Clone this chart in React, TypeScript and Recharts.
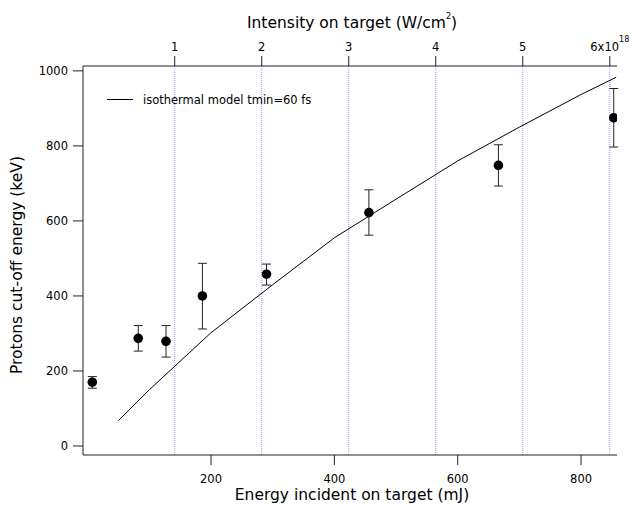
import {
  ComposedChart,
  Line,
  Scatter,
  ErrorBar,
  XAxis,
  YAxis,
  ReferenceLine,
} from "recharts";

// isothermal model curve (energy in mJ -> cut-off energy in keV)
const MODEL_E = [50, 100, 200, 300, 400, 500, 600, 700, 800, 857];
const MODEL_KEV = [68, 150, 302, 430, 555, 658, 760, 850, 937, 983];

// measured shots
const SHOT_E = [7.5, 82, 127, 186, 290, 456, 666, 853];
const SHOT_KEV = [170, 287, 279, 400, 458, 622, 748, 875];
const SHOT_ERR_LO = [16, 34, 42, 88, 29, 60, 55, 78];
const SHOT_ERR_HI = [15, 34, 42, 87, 27, 61, 55, 78];

const ENERGY_TICKS = [200, 400, 600, 800];
const KEV_TICKS = [0, 200, 400, 600, 800, 1000];
const INTENSITY_TICKS = [1, 2, 3, 4, 5, 6];
const INTENSITY_LABELS = ["1", "2", "3", "4", "5", "6x10"];
const INTENSITY_EXP = "18";
const MJ_PER_1E18 = 141.1; // pulse energy giving 1e18 W/cm2

const E_DOMAIN = [-7.6, 858.3];
const KEV_DOMAIN = [-24, 1013];

const FONT = "'DejaVu Sans', Verdana, sans-serif";
const INK = "#000";
const AXIS = "#222";
const GUIDE = "#9c9cff";

const model = MODEL_E.map((x, i) => ({ x, y: MODEL_KEV[i] }));
const shots = SHOT_E.map((x, i) => ({
  x,
  y: SHOT_KEV[i],
  err: [SHOT_ERR_LO[i], SHOT_ERR_HI[i]],
}));
const topTicks = INTENSITY_TICKS.map((v) => v * MJ_PER_1E18);

const tickStyle = { fontSize: 11.5, fill: INK, fontFamily: FONT };

function TopTick(props: any) {
  const { x, y, payload } = props;
  const i = topTicks.findIndex((t) => Math.abs(t - payload.value) < 1e-6);
  if (i < 0) return null;
  const last = i === INTENSITY_LABELS.length - 1;
  return (
    <text x={x} y={y} textAnchor="middle" fontSize={11.5} fontFamily={FONT} fill={INK}>
      {INTENSITY_LABELS[i]}
      {last && (
        <tspan fontSize={8} dy={-9}>
          {INTENSITY_EXP}
        </tspan>
      )}
    </text>
  );
}

const Dot = (p: any) => <circle cx={p.cx} cy={p.cy} r={4.8} fill={INK} />;

export default function App() {
  return (
    <div style={{ position: "absolute", left: 0, top: 0, width: 630, height: 507, background: "#fff" }}>
      <ComposedChart
        width={630}
        height={507}
        margin={{ top: 0, right: 13, bottom: 0, left: 0 }}
      >
        <XAxis
          xAxisId="e"
          dataKey="x"
          type="number"
          domain={E_DOMAIN}
          allowDataOverflow
          ticks={ENERGY_TICKS}
          interval={0}
          height={52}
          tickSize={10}
          tickMargin={10}
          tick={tickStyle}
          stroke={AXIS}
          label={{
            content: () => (
              <text x={352} y={500} textAnchor="middle" fontSize={15.5} fontFamily={FONT} fill={INK}>
                Energy incident on target (mJ)
              </text>
            ),
          }}
        />
        <XAxis
          xAxisId="top"
          orientation="top"
          dataKey="x"
          type="number"
          domain={E_DOMAIN}
          allowDataOverflow
          ticks={topTicks}
          interval={0}
          height={66}
          tickSize={10}
          tickMargin={5}
          tick={<TopTick />}
          stroke={AXIS}
          label={{
            content: () => (
              <text x={352} y={28} textAnchor="middle" fontSize={15.5} fontFamily={FONT} fill={INK}>
                Intensity on target (W/cm
                <tspan fontSize={8} dy={-9.5}>2</tspan>
                <tspan dy={9.5}>)</tspan>
              </text>
            ),
          }}
        />
        <YAxis
          dataKey="y"
          type="number"
          domain={KEV_DOMAIN}
          allowDataOverflow
          ticks={KEV_TICKS}
          interval={0}
          width={83}
          tickSize={10}
          tickMargin={5}
          tick={tickStyle}
          stroke={AXIS}
          label={{
            content: () => (
              <text
                transform="rotate(-90)"
                x={-265}
                y={21.5}
                textAnchor="middle"
                fontSize={15.5}
                fontFamily={FONT}
                fill={INK}
              >
                Protons cut-off energy (keV)
              </text>
            ),
          }}
        />
        {topTicks.map((v) => (
          <ReferenceLine
            key={v}
            xAxisId="e"
            x={v}
            stroke={GUIDE}
            strokeDasharray="1 1"
          />
        ))}
        <Line
          xAxisId="e"
          data={model}
          dataKey="y"
          type="linear"
          stroke={INK}
          strokeWidth={1}
          dot={false}
          isAnimationActive={false}
        />
        <Scatter
          xAxisId="e"
          data={shots}
          dataKey="y"
          shape={Dot}
          isAnimationActive={false}
        >
          <ErrorBar dataKey="err" direction="y" width={4.5} stroke={AXIS} strokeWidth={1} />
        </Scatter>
      </ComposedChart>
      <svg
        width={240}
        height={20}
        style={{ position: "absolute", left: 100, top: 89 }}
      >
        <line x1={7} x2={33} y1={10.5} y2={10.5} stroke={INK} strokeWidth={1} />
        <text x={43} y={14.5} fontSize={11.5} fontFamily={FONT} fill={INK}>
          isothermal model tmin=60 fs
        </text>
      </svg>
    </div>
  );
}
